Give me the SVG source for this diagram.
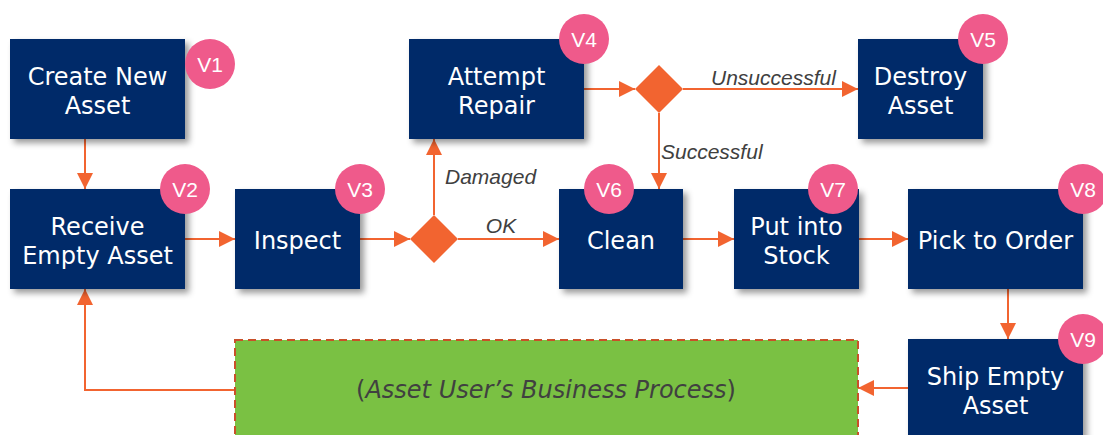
<svg xmlns="http://www.w3.org/2000/svg" width="1103" height="435" viewBox="0 0 1103 435">
<style>
.box{fill:#002A69;filter:url(#sh)}
.nt{font-family:"DejaVu Sans",Verdana,sans-serif;font-size:24px;fill:#fff;text-anchor:middle}
.badge{fill:#EF5A8B}
.bt{font-family:"Liberation Sans",Arial,sans-serif;font-size:21px;fill:#fff;text-anchor:middle}
.cn{fill:none;stroke:#F26430;stroke-width:2}
.arr{marker-end:url(#ah)}
.el{font-family:"Liberation Sans",Arial,sans-serif;font-style:italic;font-size:21px;fill:#404040}
.dia{fill:#F26430}
</style>
<defs>
<filter id="sh" x="-10%" y="-10%" width="130%" height="130%">
<feDropShadow dx="4" dy="4" stdDeviation="3" flood-color="#000" flood-opacity="0.4"/>
</filter>
<marker id="ah" markerUnits="userSpaceOnUse" markerWidth="18" markerHeight="16" refX="16" refY="8" orient="auto">
<path d="M0,0 L16,8 L0,16 Z" fill="#F26430"/>
</marker>
</defs>
<rect width="1103" height="435" fill="#fff"/>

<g id="connectors">
<line class="cn arr" x1="85" y1="139" x2="85" y2="189"/>
<line class="cn arr" x1="185" y1="239" x2="235" y2="239"/>
<line class="cn arr" x1="360" y1="239" x2="410" y2="239"/>
<line class="cn arr" x1="458" y1="239" x2="559" y2="239"/>
<line class="cn arr" x1="434" y1="215" x2="434" y2="139"/>
<line class="cn arr" x1="584" y1="89" x2="635" y2="89"/>
<line class="cn arr" x1="683" y1="89" x2="858" y2="89"/>
<line class="cn arr" x1="659" y1="113" x2="659" y2="189"/>
<line class="cn arr" x1="683" y1="239" x2="734" y2="239"/>
<line class="cn arr" x1="858" y1="239" x2="908" y2="239"/>
<line class="cn arr" x1="1008" y1="289" x2="1008" y2="339"/>
<line class="cn arr" x1="908" y1="388" x2="858" y2="388"/>
<path class="cn arr" d="M234,390 H85 V289"/>
<text class="el" x="445" y="184">Damaged</text>
<text class="el" x="501" y="233" text-anchor="middle">OK</text>
<text class="el" x="711" y="85">Unsuccessful</text>
<text class="el" x="661" y="159">Successful</text>
</g>

<g id="d1"><path class="dia" d="M434,215 L458,239 L434,263 L410,239 Z"/></g>
<g id="d2"><path class="dia" d="M659,65 L683,89 L659,113 L635,89 Z"/></g>

<g id="v1">
<rect class="box" x="10" y="39" width="175" height="100"/>
<text class="nt" x="97.5" y="85">Create New</text>
<text class="nt" x="97.5" y="114">Asset</text>
<circle class="badge" cx="210" cy="64" r="25"/>
<text class="bt" x="210" y="71.5">V1</text>
</g>

<g id="v2">
<rect class="box" x="10" y="189" width="175" height="100"/>
<text class="nt" x="97.5" y="234.5">Receive</text>
<text class="nt" x="97.5" y="263.5">Empty Asset</text>
<circle class="badge" cx="185" cy="189" r="25"/>
<text class="bt" x="185" y="196.5">V2</text>
</g>

<g id="v3">
<rect class="box" x="235" y="189" width="125" height="100"/>
<text class="nt" x="297.5" y="249">Inspect</text>
<circle class="badge" cx="360" cy="189" r="25"/>
<text class="bt" x="360" y="196.5">V3</text>
</g>

<g id="v4">
<rect class="box" x="409" y="39" width="175" height="100"/>
<text class="nt" x="496.5" y="84.5">Attempt</text>
<text class="nt" x="496.5" y="113.5">Repair</text>
<circle class="badge" cx="584" cy="39" r="25"/>
<text class="bt" x="584" y="46.5">V4</text>
</g>

<g id="v5">
<rect class="box" x="858" y="39" width="125" height="100"/>
<text class="nt" x="920.5" y="84.5">Destroy</text>
<text class="nt" x="920.5" y="113.5">Asset</text>
<circle class="badge" cx="983" cy="39" r="25"/>
<text class="bt" x="983" y="46.5">V5</text>
</g>

<g id="v6">
<rect class="box" x="559" y="189" width="124" height="100"/>
<text class="nt" x="621" y="249">Clean</text>
<circle class="badge" cx="609" cy="189" r="25"/>
<text class="bt" x="609" y="196.5">V6</text>
</g>

<g id="v7">
<rect class="box" x="734" y="189" width="125" height="100"/>
<text class="nt" x="796.5" y="234.5">Put into</text>
<text class="nt" x="796.5" y="263.5">Stock</text>
<circle class="badge" cx="833" cy="189" r="25"/>
<text class="bt" x="833" y="196.5">V7</text>
</g>

<g id="v8">
<rect class="box" x="908" y="189" width="175" height="100"/>
<text class="nt" x="995.5" y="249">Pick to Order</text>
<circle class="badge" cx="1083" cy="189" r="25"/>
<text class="bt" x="1083" y="196.5">V8</text>
</g>

<g id="v9">
<rect class="box" x="908" y="339" width="175" height="100"/>
<text class="nt" x="995.5" y="384.5">Ship Empty</text>
<text class="nt" x="995.5" y="413.5">Asset</text>
<circle class="badge" cx="1083" cy="339" r="25"/>
<text class="bt" x="1083" y="346.5">V9</text>
</g>

<g id="user-process">
<rect x="235" y="340" width="623" height="100" fill="#7AC143" stroke="#C9502A" stroke-width="2" stroke-dasharray="8,5"/>
<text x="546" y="398" text-anchor="middle" font-family="'DejaVu Sans',Verdana,sans-serif" font-size="24" fill="#404040">(<tspan font-style="italic">Asset User’s Business Process</tspan>)</text>
</g>
</svg>
